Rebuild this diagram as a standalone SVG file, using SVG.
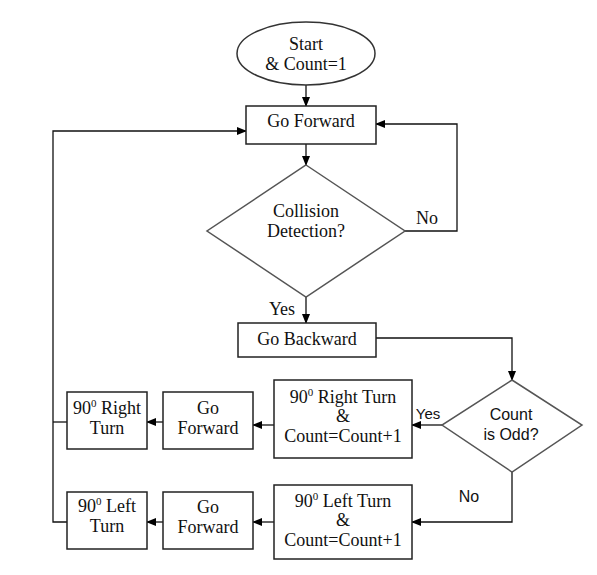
<svg xmlns="http://www.w3.org/2000/svg" width="597" height="575" viewBox="0 0 597 575">
<defs>
<marker id="ah" markerWidth="10" markerHeight="8" refX="9" refY="4" orient="auto" markerUnits="userSpaceOnUse">
<path d="M0,0 L10,4 L0,8 Z" fill="#000"/>
</marker>
<style>
.box{fill:#fff;stroke:#222;stroke-width:1.5}
.dia{fill:#fff;stroke:#555;stroke-width:1.5}
.t{font-family:"Liberation Serif","Times New Roman",serif;font-size:18px;fill:#111;text-anchor:middle}
.s{font-family:"Liberation Sans",Arial,sans-serif;font-size:16px;fill:#111;text-anchor:middle}
.c{fill:none;stroke:#111;stroke-width:1.3}
.sup{font-size:11px}
</style>
</defs>
<rect width="597" height="575" fill="#fff"/>
<g id="connectors">
<path class="c" d="M306,85 V106" marker-end="url(#ah)"/>
<path class="c" d="M306,144 V165" marker-end="url(#ah)"/>
<path class="c" d="M405,231 H457 V124 H376" marker-end="url(#ah)"/>
<path class="c" d="M306,297 V323" marker-end="url(#ah)"/>
<path class="c" d="M376,338 H512 V380" marker-end="url(#ah)"/>
<path class="c" d="M442,425 H412" marker-end="url(#ah)"/>
<path class="c" d="M512,472 V522 H412" marker-end="url(#ah)"/>
<path class="c" d="M274,425 H253" marker-end="url(#ah)"/>
<path class="c" d="M163,422 H147" marker-end="url(#ah)"/>
<path class="c" d="M274,522 H253" marker-end="url(#ah)"/>
<path class="c" d="M163,522 H147" marker-end="url(#ah)"/>
<path class="c" d="M67,422 H53"/>
<path class="c" d="M67,522 H53 V131 H246" marker-end="url(#ah)"/>
<text class="t" x="427" y="224">No</text>
<text class="t" x="282" y="315">Yes</text>
<text class="s" x="428" y="419" style="font-size:15px">Yes</text>
<text class="s" x="469" y="502">No</text>
</g>
<g id="start">
<ellipse cx="306" cy="53.5" rx="69" ry="31.5" fill="#fff" stroke="#333" stroke-width="1.5"/>
<text class="t" x="306" y="50">Start</text>
<text class="t" x="306" y="70">&amp; Count=1</text>
</g>
<g id="goForward">
<rect class="box" x="246" y="106" width="130" height="38"/>
<text class="t" x="311" y="127">Go Forward</text>
</g>
<g id="collision">
<polygon class="dia" points="306,165 405,231 306,297 207,231"/>
<text class="t" x="306" y="217">Collision</text>
<text class="t" x="306" y="237">Detection?</text>
</g>
<g id="goBackward">
<rect class="box" x="238" y="323" width="138" height="34"/>
<text class="t" x="307" y="345">Go Backward</text>
</g>
<g id="countOdd">
<polygon class="dia" points="512,380 582,425 512,472 442,425"/>
<text class="s" x="511" y="420">Count</text>
<text class="s" x="511" y="440">is Odd?</text>
</g>
<g id="rightTurnCount">
<rect class="box" x="274" y="380" width="138" height="78"/>
<text class="t" x="343" y="403">90<tspan class="sup" dy="-7">0</tspan><tspan dy="7"> Right Turn</tspan></text>
<text class="t" x="343" y="422">&amp;</text>
<text class="t" x="343" y="442">Count=Count+1</text>
</g>
<g id="leftTurnCount">
<rect class="box" x="274" y="485" width="138" height="74"/>
<text class="t" x="343" y="507">90<tspan class="sup" dy="-7">0</tspan><tspan dy="7"> Left Turn</tspan></text>
<text class="t" x="343" y="526">&amp;</text>
<text class="t" x="343" y="546">Count=Count+1</text>
</g>
<g id="goForwardRight">
<rect class="box" x="163" y="392" width="90" height="57"/>
<text class="t" x="208" y="414">Go</text>
<text class="t" x="208" y="434">Forward</text>
</g>
<g id="goForwardLeft">
<rect class="box" x="163" y="492" width="90" height="57"/>
<text class="t" x="208" y="513">Go</text>
<text class="t" x="208" y="533">Forward</text>
</g>
<g id="rightTurn">
<rect class="box" x="67" y="392" width="80" height="57"/>
<text class="t" x="107" y="414">90<tspan class="sup" dy="-7">0</tspan><tspan dy="7"> Right</tspan></text>
<text class="t" x="107" y="434">Turn</text>
</g>
<g id="leftTurn">
<rect class="box" x="67" y="492" width="80" height="57"/>
<text class="t" x="107" y="512">90<tspan class="sup" dy="-7">0</tspan><tspan dy="7"> Left</tspan></text>
<text class="t" x="107" y="532">Turn</text>
</g>
</svg>
